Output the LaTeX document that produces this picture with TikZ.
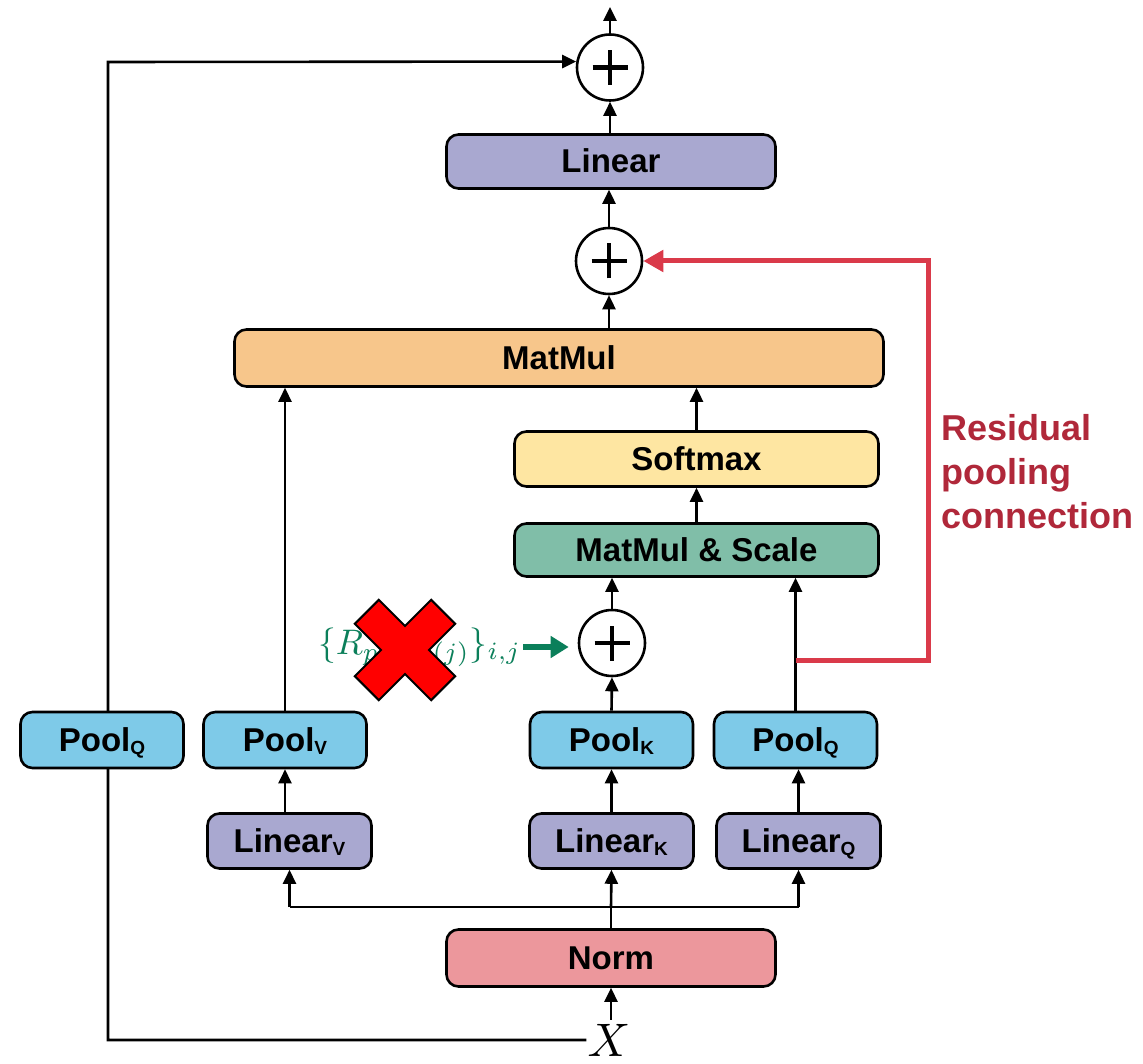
\documentclass[tikz,border=0pt]{standalone}
\usepackage{fontspec}
\setmainfont{Liberation Sans}
\usetikzlibrary{arrows.meta,backgrounds}

\definecolor{linfill}{HTML}{A9A8D0}
\definecolor{poolfill}{HTML}{7ECAE8}
\definecolor{mmfill}{HTML}{F7C68B}
\definecolor{smfill}{HTML}{FEE6A2}
\definecolor{scfill}{HTML}{80BEA8}
\definecolor{normfill}{HTML}{EC979C}
\definecolor{resline}{HTML}{DA3A4A}
\definecolor{restext}{HTML}{B0283A}
\definecolor{relgreen}{HTML}{0B7F5A}

% smaller, slightly lowered index letter used in the box labels
\newcommand{\idx}[1]{\raisebox{-3pt}{\fontsize{19}{19}\selectfont #1}}

\begin{document}
\begin{tikzpicture}[x=1pt,y=-1pt,
  box/.style={draw=black, line width=2.6pt, rounded corners=12pt, inner sep=0pt,
    text height=23pt, text depth=0pt,
    font=\bfseries\fontsize{33}{33}\selectfont},
  wide/.style={box, minimum width=329pt, minimum height=54pt},
  small/.style={box, minimum width=163pt, minimum height=56pt},
  plus/.style={circle, draw=black, line width=2.6pt, minimum size=66pt, inner sep=0pt,
    path picture={\draw[line width=4.6pt]
      ([xshift=-17.5pt]path picture bounding box.center) -- ([xshift=17.5pt]path picture bounding box.center)
      ([yshift=-17.5pt]path picture bounding box.center) -- ([yshift=17.5pt]path picture bounding box.center);}},
  arr/.style={line width=2.6pt, -{Triangle[length=14pt,width=13pt]}},
  link/.style={line width=2.6pt},
  resarr/.style={draw=resline, line width=5pt, -{Triangle[length=20pt,width=21pt]}},
  relarr/.style={draw=relgreen, line width=6pt, -{Triangle[length=18pt,width=21pt]}}
]
\useasboundingbox (0,0) rectangle (1143,1064);

% ---- blocks ----
\node[wide, fill=linfill] (linear) at (611,161.5) {Linear};
\node[plus] (p1) at (610,67.5) {};
\node[plus] (p2) at (609,261) {};
\node[box, fill=mmfill, minimum width=649pt, minimum height=57pt] (matmul) at (559,358) {MatMul};
\node[box, fill=smfill, minimum width=364pt, minimum height=55pt] (softmax) at (696.5,459) {Softmax};
\node[box, fill=scfill, minimum width=364pt, minimum height=53pt] (mms) at (696.5,550) {MatMul \& Scale};
\node[plus] (p3) at (612,643) {};

\node[small, fill=poolfill] (poolQl) at (102,740) {Pool\idx{Q}};
\node[small, fill=poolfill] (poolV) at (285,740) {Pool\idx{V}};
\node[small, fill=poolfill] (poolK) at (611.5,740) {Pool\idx{K}};
\node[small, fill=poolfill] (poolQr) at (795.5,740) {Pool\idx{Q}};

\node[small, fill=linfill, minimum width=164pt, minimum height=55pt] (linV) at (289.5,841) {Linear\idx{V}};
\node[small, fill=linfill, minimum width=164pt, minimum height=55pt] (linK) at (611.5,841) {Linear\idx{K}};
\node[small, fill=linfill, minimum width=164pt, minimum height=55pt] (linQ) at (798.5,841) {Linear\idx{Q}};

\node[wide, fill=normfill, minimum height=57pt] (norm) at (611,958) {Norm};

\node[inner sep=1pt] (x) at (609,1040) {\scalebox{4.7}{$X$}};

% ---- free ends and corners ----
\coordinate (out) at (610,7);
\coordinate (split) at (611,907);
\coordinate (lb) at (108,1040);
\coordinate (lt) at (108,62);
\coordinate (rs) at (795.5,660);
\coordinate (rc1) at (928,660);
\coordinate (rc2) at (928,261);

% ---- connectors ----
\draw[arr] (p1.north) -- (out);
\draw[arr] (linear.north -| p1) -- (p1.south);
\draw[arr] (p2.north) -- (p2.north |- linear.south);
\draw[arr] (matmul.north -| p2) -- (p2.south);
\draw[arr] (softmax.north) -- (softmax.north |- matmul.south);
\draw[arr] (mms.north) -- (softmax.south);
\draw[arr] (p3.north) -- (p3.north |- mms.south);
\draw[arr] (poolQr.north) -- (poolQr.north |- mms.south);
\draw[arr] (poolV.north) -- (poolV.north |- matmul.south);
\draw[arr] (poolK.north) -- (p3.south);
\draw[arr] (linV.north -| poolV.south) -- (poolV.south);
\draw[arr] (linK.north) -- (poolK.south);
\draw[arr] (linQ.north) -- (linQ.north |- poolQr.south);

\draw[link] (norm.north) -- (split);
\draw[link] (split -| linV) -- (split -| linQ);
\draw[arr] (split -| linV) -- (linV.south);
\draw[arr] (split) -- (linK.south);
\draw[arr] (split -| linQ) -- (linQ.south);
\draw[arr] ([yshift=3pt]norm.south |- x.north) -- (norm.south);

% skip connection from the input, passing behind the left pooling block
\begin{scope}[on background layer]
  \draw[arr] (x.west) -- (lb) -- (lt) -- (p1.170);
\end{scope}

% residual pooling connection
\draw[resarr] (rs) -- (rc1) -- (rc2) -- (p2.east);
\node[anchor=north west, align=left, text=restext, inner sep=0pt,
      font=\bfseries\fontsize{36}{44}\selectfont] (reslabel) at (941,414)
      {Residual\\pooling\\connection};

% relative position term, struck out
\node[inner sep=0pt, text=relgreen, anchor=west] (rel) at (318,647)
  {\scalebox{3.55}{$\{R_{p(i),p(j)}\}_{i,j}$}};
\draw[relarr, shorten >=9pt] (rel.east |- p3.west) ++(2,4) -- ([yshift=-4pt]p3.west);

\begin{scope}[shift={(405,650)}, rotate=45]
  \draw[fill=red, line width=2pt, line join=miter]
    (-17,-54) -- (17,-54) -- (17,-17) -- (54,-17) -- (54,17) -- (17,17) -- (17,54)
    -- (-17,54) -- (-17,17) -- (-54,17) -- (-54,-17) -- (-17,-17) -- cycle;
\end{scope}
\end{tikzpicture}
\end{document}
